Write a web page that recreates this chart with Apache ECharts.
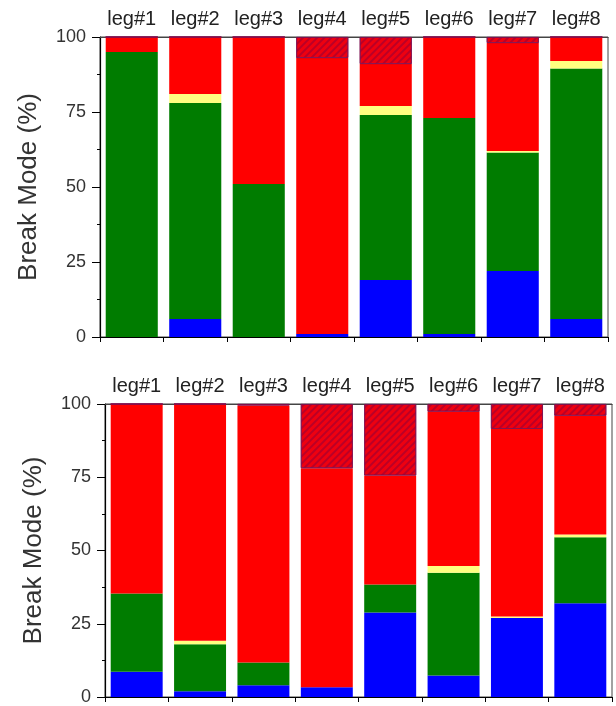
<!DOCTYPE html>
<html>
<head>
<meta charset="utf-8">
<script src="https://cdn.jsdelivr.net/npm/echarts@6/dist/echarts.min.js"></script>
<style>html,body{margin:0;padding:0;background:#fff;}#c{width:616px;height:706px;}</style>
</head>
<body>
<div id="c"></div>
<script>
var categories = ['leg#1','leg#2','leg#3','leg#4','leg#5','leg#6','leg#7','leg#8'];
var yTicks = [0, 25, 50, 75, 100];

var topBlue   = [0, 6, 0, 1, 19, 1, 22, 6];
var topGreen  = [95, 72, 51, 0, 55, 72, 39.5, 83.5];
var topYellow = [0, 3, 0, 0, 3, 0, 0.5, 2.5];
var topRed    = [5, 19, 49, 92, 14, 27, 36, 8];
var topHatch  = [0, 0, 0, 7, 9, 0, 2, 0];

var botBlue   = [8.6, 2, 4, 3.3, 28.8, 7.3, 27, 32];
var botGreen  = [26.7, 16, 7.8, 0, 9.6, 35.1, 0, 22.5];
var botYellow = [0, 1.2, 0, 0, 0, 2.3, 0.5, 1];
var botRed    = [64.7, 80.8, 87.7, 74.8, 37.2, 52.7, 64, 40.5];
var botHatch  = [0, 0, 0.5, 21.9, 24.4, 2.6, 8.5, 4];

var font = 'Liberation Sans, Arial, sans-serif';
var hatchDecal = {symbol:'rect', symbolSize:1, dashArrayX:[1,0], dashArrayY:[2,3], rotation:-Math.PI/4, color:'rgba(110,0,70,0.4)'};

function mkSeries(idx, blue, green, yellow, red, hatch){
  var stack = 's' + idx;
  var base = {type:'bar', stack:stack, xAxisIndex: idx*2, yAxisIndex: idx, barCategoryGap:'18%', animation:false};
  return [
    Object.assign({}, base, {name:'blue', data:blue, itemStyle:{color:'#0000ff'}}),
    Object.assign({}, base, {name:'green', data:green, itemStyle:{color:'#007c00'}}),
    Object.assign({}, base, {name:'yellow', data:yellow, itemStyle:{color:'#ffff80'}}),
    Object.assign({}, base, {name:'red', data:red, itemStyle:{color:'#ff0000'}}),
    Object.assign({}, base, {name:'hatch', data:hatch, itemStyle:{color:'#ee0010', decal:hatchDecal, borderColor:'#801050', borderWidth:0.8}})
  ];
}

function xAxes(gi){
  return [
    {type:'category', gridIndex:gi, data:categories, position:'bottom',
     axisLine:{show:true, lineStyle:{color:'#000', width:1.2}},
     axisTick:{show:true, inside:false, length:5, interval:0, alignWithLabel:false, lineStyle:{color:'#000'}},
     axisLabel:{show:false}, splitLine:{show:false}},
    {type:'category', gridIndex:gi, data:categories, position:'top',
     axisLine:{show:true, lineStyle:{color:'#444', width:1.2}},
     axisTick:{show:false},
     axisLabel:{show:true, interval:0, margin: 8, color:'#222', fontSize:20, fontFamily:font},
     splitLine:{show:false}}
  ];
}

function yAxis(gi){
  return {type:'value', gridIndex:gi, min:yTicks[0], max:yTicks[yTicks.length-1], interval:25,
    name:'Break Mode (%)', nameLocation:'middle', nameGap:58,
    nameTextStyle:{color:'#333', fontSize:26, fontFamily:font},
    axisLine:{show:true, lineStyle:{color:'#000', width:1.2}},
    axisTick:{show:true, inside:false, length:8, lineStyle:{color:'#000'}},
    minorTick:{show:true, splitNumber:2, length:3, lineStyle:{color:'#000'}},
    axisLabel:{color:'#333', fontSize:18, fontFamily:font, margin:14},
    splitLine:{show:false}};
}

var chart = echarts.init(document.getElementById('c'), null, {renderer:'canvas'});
chart.setOption({
  backgroundColor:'#fff',
  animation:false,
  grid:[
    {left:100, top:37, width:508, height:300, show:true, borderColor:'#444', borderWidth:1},
    {left:105, top:404, width:507, height:294, show:true, borderColor:'#444', borderWidth:1}
  ],
  xAxis: xAxes(0).concat(xAxes(1)),
  yAxis: [yAxis(0), yAxis(1)],
  series: mkSeries(0, topBlue, topGreen, topYellow, topRed, topHatch)
    .concat(mkSeries(1, botBlue, botGreen, botYellow, botRed, botHatch))
});
</script>
</body>
</html>
